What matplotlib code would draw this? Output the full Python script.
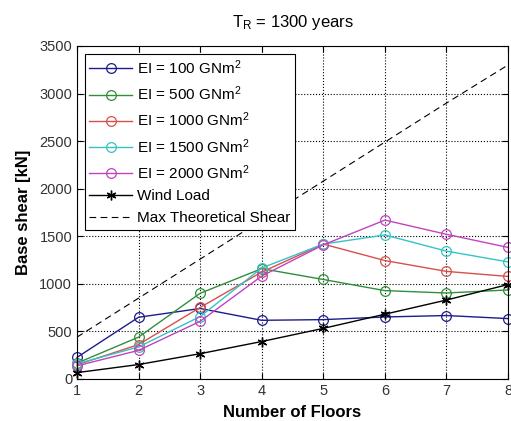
import matplotlib
matplotlib.use("Agg")
import matplotlib.pyplot as plt

floors = [1, 2, 3, 4, 5, 6, 7, 8]
ei_100 = [227, 649, 741, 617, 624, 652, 667, 635]
ei_500 = [167, 440, 901, 1160, 1046, 929, 904, 936]
ei_1000 = [149, 362, 752, 1124, 1418, 1245, 1131, 1078]
ei_1500 = [160, 337, 656, 1167, 1418, 1514, 1344, 1231]
ei_2000 = [138, 301, 606, 1082, 1410, 1670, 1521, 1383]
wind = [67, 152, 266, 394, 532, 681, 830, 993]
max_shear = [440, 850, 1260, 1670, 2080, 2490, 2900, 3300]

SERIES = [
    (ei_100, r"EI = 100 GNm$^2$", "#1c1c8c"),
    (ei_500, r"EI = 500 GNm$^2$", "#2f8f3a"),
    (ei_1000, r"EI = 1000 GNm$^2$", "#d8504a"),
    (ei_1500, r"EI = 1500 GNm$^2$", "#33c4c4"),
    (ei_2000, r"EI = 2000 GNm$^2$", "#c044c0"),
]

plt.rcParams["font.family"] = ["Liberation Sans", "DejaVu Sans"]
plt.rcParams["mathtext.default"] = "regular"

fig = plt.figure(figsize=(5.11, 4.21), dpi=100)
ax = fig.add_axes([77 / 511, 1 - 379 / 421, 431 / 511, 333 / 421])

for vals, lab, col in SERIES:
    ax.plot(floors, vals, "-o", color=col, lw=1.0, ms=7, mfc="none", mew=0.9,
            label=lab, clip_on=False)
# MATLAB-style '*' marker (asterisk of strokes)
ax.plot(floors, wind, "-", marker=(6, 2, 0), color="black", lw=1.0, ms=7,
        mew=1.0, label="Wind Load", clip_on=False)
ax.plot(floors, max_shear, color="black", lw=0.8, dashes=(6, 4),
        label="Max Theoretical Shear")

ax.set_xlim(1, 8)
ax.set_ylim(0, 3500)
ax.set_xticks(floors)
ax.set_yticks(range(0, 3501, 500))
ax.tick_params(direction="in", top=True, right=True, labelsize=10.5,
               labelcolor="#333333", length=4)
ax.grid(True, ls=":", color="black", lw=0.8)
for s in ax.spines.values():
    s.set_linewidth(0.8)

ax.set_xlabel("Number of Floors", fontsize=12, fontweight="bold", labelpad=5)
ax.set_ylabel("Base shear [kN]", fontsize=12, fontweight="bold", labelpad=6)
ax.set_title("T$_R$ = 1300 years", fontsize=12, pad=14)

leg = ax.legend(loc="upper left", fontsize=11, handlelength=2.8,
                fancybox=False, framealpha=1, edgecolor="black",
                borderpad=0.3, labelspacing=0.5, handletextpad=0.3,
                borderaxespad=0.5)
leg.get_frame().set_linewidth(0.8)

fig.savefig("out.png", dpi=100)
